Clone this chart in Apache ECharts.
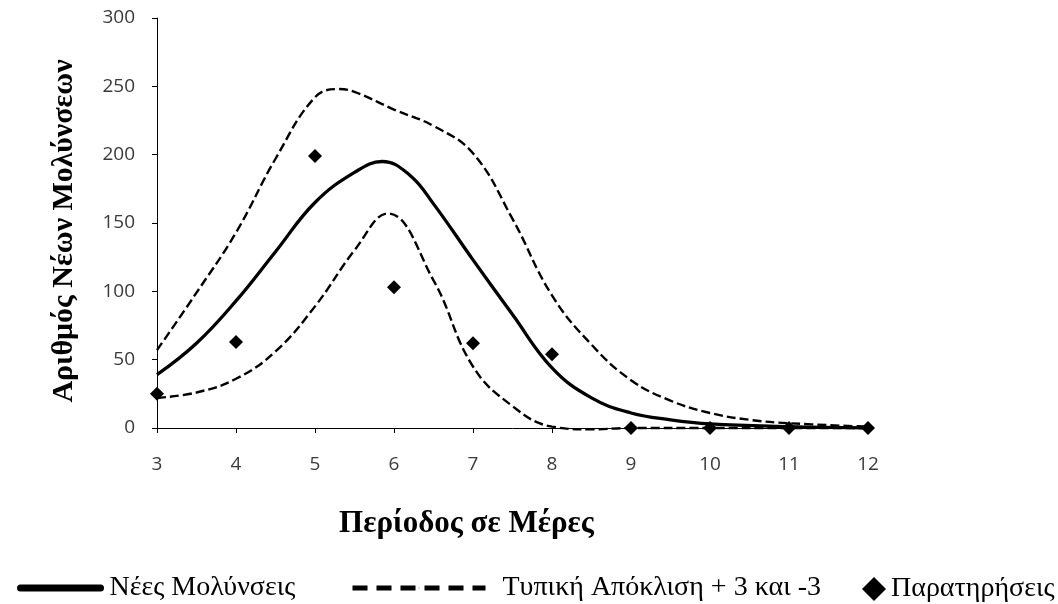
<!DOCTYPE html>
<html>
<head>
<meta charset="utf-8">
<script src="https://cdn.jsdelivr.net/npm/echarts@6/dist/echarts.min.js"></script>
<style>html,body{margin:0;padding:0;background:#fff}#c{width:1058px;height:604px}</style>
</head>
<body>
<div id="c"></div>
<script>
// Curve samples (day, value)
const meanX = [3, 3.5, 4, 4.5, 5, 5.5, 5.85, 6.2, 6.5, 7, 7.5, 8, 8.5, 9, 9.5, 10, 11, 12];
const meanY = [39, 62, 93, 129, 165, 187, 195, 185, 164, 123, 83, 44, 22, 11, 6, 3, 1, 0];
const upperX = [3, 3.5, 4, 4.5, 5, 5.3, 5.5, 6, 6.5, 7, 7.5, 8, 8.5, 9, 9.5, 10, 10.5, 11, 12];
const upperY = [57, 99, 143, 197, 242, 248, 246, 233, 221, 201, 153, 97, 61, 35, 20, 11, 6, 3.5, 1];
const lowerX = [3, 3.5, 4, 4.5, 5, 5.5, 5.92, 6.5, 7, 7.5, 8, 8.5, 9, 10, 11, 12];
const lowerY = [22, 26, 36, 56, 89, 130, 157, 108, 45, 16, 1, -1, 0, 0, 0, 0];
// Observations
const obsX = [3, 4, 5, 6, 7, 8, 9, 10, 11, 12];
const obsY = [25, 63, 199, 103, 62, 54, 0, 0, 0, 0];
const yTicks = [0, 50, 100, 150, 200, 250, 300];

const zip = (xs, ys) => xs.map((x, i) => [x, ys[i]]);
const NAME_MEAN = 'Νέες Μολύνσεις';
const NAME_SD = 'Τυπική Απόκλιση + 3 και -3';
const NAME_OBS = 'Παρατηρήσεις';
const serif = '"Liberation Serif", "DejaVu Serif", serif';
const sans = '"Open Sans", "Noto Sans", sans-serif';
const legText = (pad) => ({ fontFamily: serif, fontSize: 28, color: '#000', padding: [0, 0, 0, pad] });
const SMOOTH = 0.42;

const chart = echarts.init(document.getElementById('c'));
chart.setOption({
  animation: false,
  grid: { left: 157, right: 190, top: 18, bottom: 176 },
  xAxis: {
    type: 'value', min: 3, max: 12, interval: 1,
    name: 'Περίοδος σε Μέρες', nameLocation: 'middle', nameGap: 80,
    nameTextStyle: { fontFamily: serif, fontSize: 31, fontWeight: 'bold', color: '#000', padding: [0, 92, 0, 0] },
    axisLine: { lineStyle: { color: '#000', width: 1 } },
    axisTick: { show: true, length: 5, lineStyle: { color: '#000' } },
    axisLabel: { margin: 27, fontFamily: sans, fontSize: 19, color: '#3a3a3a' },
    splitLine: { show: false }
  },
  yAxis: {
    type: 'value', min: yTicks[0], max: yTicks[yTicks.length - 1], interval: 50,
    name: 'Αριθμός Νέων Μολύνσεων', nameLocation: 'middle', nameGap: 78, nameRotate: 90,
    nameTextStyle: { fontFamily: serif, fontSize: 30, fontWeight: 'bold', color: '#000', padding: [0, 16, 0, 0] },
    axisLine: { show: true, lineStyle: { color: '#000', width: 1 } },
    axisTick: { show: true, length: 5, lineStyle: { color: '#000' } },
    axisLabel: { margin: 22, fontFamily: sans, fontSize: 19, color: '#3a3a3a' },
    splitLine: { show: false }
  },
  legend: [
    { data: [NAME_MEAN], left: 12, top: 569, itemWidth: 80, itemHeight: 1,
      textStyle: legText(4), lineStyle: { width: 7, cap: 'round' } },
    { data: [NAME_SD], left: 345, top: 569, itemWidth: 133, itemHeight: 1,
      textStyle: legText(12), lineStyle: { width: 5, type: [15, 9] } },
    { data: [NAME_OBS], left: 857, top: 570, itemWidth: 24, itemHeight: 24,
      textStyle: legText(0), itemStyle: { opacity: 1 } }
  ],
  series: [
    { name: NAME_MEAN, type: 'line', data: zip(meanX, meanY), smooth: SMOOTH, symbol: 'none',
      lineStyle: { color: '#000', width: 3.3 }, itemStyle: { color: '#000' }, z: 3 },
    { name: NAME_SD, type: 'line', data: zip(upperX, upperY), smooth: SMOOTH, symbol: 'none',
      lineStyle: { color: '#000', width: 2.4, type: [9, 4] }, itemStyle: { color: '#000' }, z: 2 },
    { name: NAME_SD, type: 'line', data: zip(lowerX, lowerY), smooth: SMOOTH, symbol: 'none', clip: false,
      lineStyle: { color: '#000', width: 2.4, type: [9, 4] }, itemStyle: { color: '#000' }, z: 2 },
    { name: NAME_OBS, type: 'scatter', data: zip(obsX, obsY), symbol: 'diamond', symbolSize: 14,
      itemStyle: { color: '#000', opacity: 1 }, z: 4 }
  ]
});
</script>
</body>
</html>
